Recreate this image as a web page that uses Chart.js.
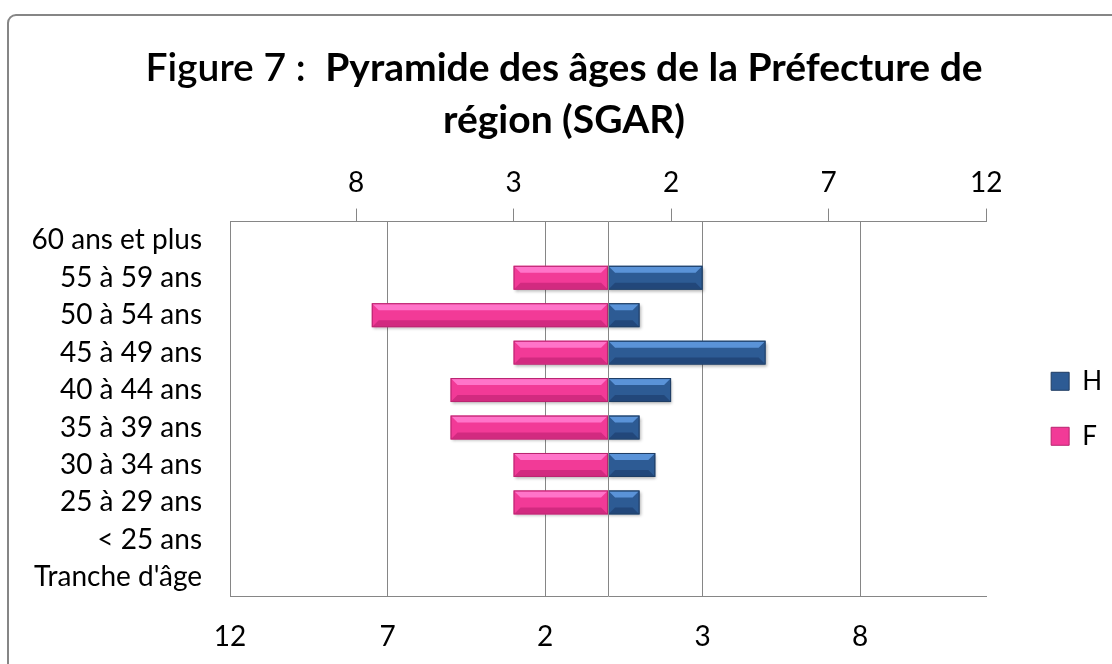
<!DOCTYPE html>
<html lang="fr">
<head>
<meta charset="utf-8">
<title>Pyramide des âges</title>
<script src="https://cdn.jsdelivr.net/npm/chart.js@4.4.1/dist/chart.umd.min.js"></script>
<style>
  html, body { margin: 0; padding: 0; background: #fff; }
  #wrap { position: relative; width: 1112px; height: 664px; }
</style>
</head>
<body>
<div id="wrap"><canvas id="pyramide"></canvas></div>
<script>
// données
const tranches = ['60 ans et plus', '55 à 59 ans', '50 à 54 ans', '45 à 49 ans', '40 à 44 ans',
  '35 à 39 ans', '30 à 34 ans', '25 à 29 ans', '< 25 ans', "Tranche d'âge"];
const hommes = [null, 3, 1, 5, 2, 1, 1.5, 1, null, null];
const femmes = [null, 3, 7.5, 3, 5, 5, 3, 3, null, null];
const ticksBas = [-12, -7, -2, 3, 8];
const ticksHaut = [-8, -3, 2, 7, 12];
const titreFigure = 'Figure 7 :  ';
const titre = ['Pyramide des âges de la Préfecture de', 'région (SGAR)'];

const gris = '#868686';
const relief = {
  H: { corps: '#2d5b94', clair: '#5a93d8', sombre: '#22477a', bord: '#1f3d63' },
  F: { corps: '#f23a97', clair: '#ff74c9', sombre: '#d22a80', bord: '#b8246f' },
};
const policeTitre = { size: 39, lineHeight: 1.333 };

Chart.defaults.font.family = 'Lato, "Open Sans", sans-serif';
Chart.defaults.color = '#000';

// cadre arrondi, titre à deux graisses, ligne du zéro et effet biseauté des barres
const decor = {
  id: 'decor',
  beforeDraw(chart) {
    const ctx = chart.ctx;
    ctx.save();
    ctx.fillStyle = '#fff';
    ctx.fillRect(0, 0, chart.width, chart.height);
    ctx.strokeStyle = gris;
    ctx.lineWidth = 2;
    ctx.beginPath();
    ctx.roundRect(8, 15, chart.width + 40, chart.height + 40, 8);
    ctx.stroke();
    ctx.restore();
  },
  afterLayout(chart) {
    // légende collée au bord droit et centrée sur la zone de tracé
    const lg = chart.legend;
    const ca = chart.chartArea;
    const dx = chart.width - lg.right;
    const dy = (ca.top + ca.bottom) / 2 - (lg.top + lg.bottom) / 2;
    lg.left += dx; lg.right += dx;
    lg.top += dy; lg.bottom += dy;
  },
  beforeDatasetsDraw(chart) {
    const ctx = chart.ctx;
    ctx.save();
    ctx.shadowColor = 'rgba(0,0,0,0.3)';
    ctx.shadowOffsetX = 1;
    ctx.shadowOffsetY = 2;
    ctx.shadowBlur = 3;
  },
  afterDatasetsDraw(chart) {
    const ctx = chart.ctx;
    ctx.restore();
    chart.data.datasets.forEach((ds, di) => {
      const pal = relief[ds.label];
      chart.getDatasetMeta(di).data.forEach(bar => {
        const { x, y, base, height } = bar.getProps(['x', 'y', 'base', 'height'], true);
        if (x == null || isNaN(x) || Math.abs(x - base) < 1) return;
        const l = Math.min(x, base), r = Math.max(x, base);
        const t = y - height / 2, b = y + height / 2;
        const bev = Math.min(7, (r - l) / 2);
        ctx.save();
        ctx.fillStyle = pal.clair;
        ctx.beginPath();
        ctx.moveTo(l + 1, t + 1); ctx.lineTo(r - 1, t + 1);
        ctx.lineTo(r - bev, t + bev); ctx.lineTo(l + bev, t + bev);
        ctx.closePath(); ctx.fill();
        ctx.fillStyle = pal.sombre;
        ctx.beginPath();
        ctx.moveTo(l + 1, b - 1); ctx.lineTo(r - 1, b - 1);
        ctx.lineTo(r - bev, b - bev); ctx.lineTo(l + bev, b - bev);
        ctx.closePath(); ctx.fill();
        ctx.strokeStyle = pal.bord;
        ctx.lineWidth = 1;
        ctx.strokeRect(l + 0.5, t + 0.5, r - l - 1, b - t - 1);
        ctx.restore();
      });
    });
    const xs = chart.scales.x;
    const zero = Math.round(xs.getPixelForValue(0)) + 0.5;
    ctx.save();
    ctx.strokeStyle = gris;
    ctx.lineWidth = 1;
    ctx.beginPath();
    ctx.moveTo(zero, chart.chartArea.top);
    ctx.lineTo(zero, chart.chartArea.bottom);
    ctx.stroke();
    ctx.restore();
  },
  afterDraw(chart) {
    // le bloc titre de Chart.js réserve la place, le texte est posé ici
    const tb = chart.titleBlock;
    const opts = chart.options.plugins.title;
    const lh = policeTitre.size * policeTitre.lineHeight;
    const famille = Chart.defaults.font.family;
    const moyen = `600 ${policeTitre.size}px ${famille}`;
    const gras = `bold ${policeTitre.size}px ${famille}`;
    const ctx = chart.ctx;
    const cx = chart.width / 2 + 8;
    ctx.save();
    ctx.fillStyle = '#000';
    ctx.textBaseline = 'middle';
    ctx.textAlign = 'left';
    titre.forEach((ligne, i) => {
      const y = tb.top + opts.padding.top + lh / 2 + i * lh;
      ctx.font = moyen;
      const debut = i === 0 ? titreFigure : '';
      const w1 = ctx.measureText(debut).width;
      ctx.font = gras;
      const w2 = ctx.measureText(ligne).width;
      let x = cx - (w1 + w2) / 2;
      if (debut) {
        ctx.font = moyen;
        ctx.fillText(debut, x, y);
        x += w1;
      }
      ctx.font = gras;
      ctx.fillText(ligne, x, y);
    });
    ctx.restore();
  }
};

const valeurAbsolue = v => Math.abs(v);

new Chart(document.getElementById('pyramide'), {
  type: 'bar',
  data: {
    labels: tranches,
    datasets: [
      {
        label: 'H',
        data: hommes,
        backgroundColor: relief.H.corps,
        borderColor: relief.H.bord,
        borderWidth: 0,
      },
      {
        label: 'F',
        data: femmes.map(v => (v == null ? null : -v)),
        backgroundColor: relief.F.corps,
        borderColor: relief.F.bord,
        borderWidth: 0,
      },
    ],
  },
  options: {
    indexAxis: 'y',
    responsive: true,
    maintainAspectRatio: false,
    animation: false,
    categoryPercentage: 0.8,
    barPercentage: 0.8,
    layout: { padding: { left: 30, top: 0, right: 36, bottom: 0 } },
    plugins: {
      title: {
        display: true,
        text: [titreFigure + titre[0], titre[1]],
        color: 'rgba(0,0,0,0)',
        font: { size: policeTitre.size, weight: 'bold', lineHeight: policeTitre.lineHeight },
        padding: { top: 42.5, bottom: 10.5 },
      },
      legend: {
        position: 'right',
        labels: {
          boxWidth: 18,
          boxHeight: 18,
          padding: 29,
          color: '#000',
          font: { size: 26 },
          generateLabels: chart => chart.data.datasets.map((ds, i) => ({
            text: ds.label,
            fillStyle: ds.backgroundColor,
            strokeStyle: ds.borderColor,
            lineWidth: 1,
            datasetIndex: i,
          })),
        },
      },
      tooltip: { enabled: false },
    },
    scales: {
      y: {
        stacked: true,
        grid: { display: false, drawTicks: false },
        border: { display: false },
        ticks: { autoSkip: false, padding: 28, font: { size: 28 }, color: '#000' },
        afterFit: axis => { axis.width = 200; },
      },
      x: {
        stacked: true,
        position: 'bottom',
        min: -12,
        max: 12,
        afterBuildTicks: axis => { axis.ticks = ticksBas.map(v => ({ value: v })); },
        afterFit: axis => { axis.height = 68; },
        grid: { color: gris, drawTicks: false },
        border: { color: gris },
        ticks: { padding: 24, font: { size: 28 }, color: '#000', maxRotation: 0, callback: valeurAbsolue },
      },
      x2: {
        type: 'linear',
        position: 'top',
        min: -12,
        max: 12,
        afterBuildTicks: axis => { axis.ticks = ticksHaut.map(v => ({ value: v })); },
        grid: { color: gris, drawOnChartArea: false, tickLength: 13 },
        border: { color: gris },
        ticks: { padding: 9, font: { size: 28 }, color: '#000', maxRotation: 0, callback: valeurAbsolue },
      },
    },
  },
  plugins: [decor],
});
</script>
</body>
</html>
